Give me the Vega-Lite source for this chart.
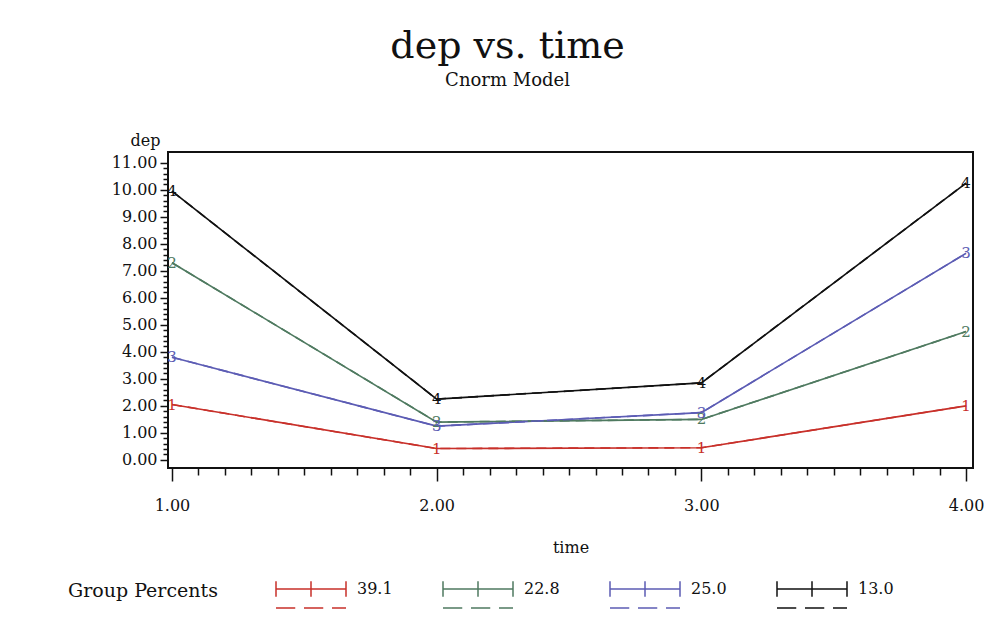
{
  "$schema": "https://vega.github.io/schema/vega-lite/v6.json",
  "width": 805,
  "height": 316,
  "autosize": "none",
  "padding": {"left": 168, "top": 152, "right": 20, "bottom": 156},
  "background": "white",
  "config": {
    "font": "DejaVu Serif",
    "view": {"stroke": "#111111", "strokeWidth": 2},
    "axis": {"grid": false, "domain": false, "labelColor": "#111111", "titleColor": "#111111", "tickColor": "#111111", "tickWidth": 1.5, "labelFont": "DejaVu Serif", "titleFont": "DejaVu Serif", "titleFontWeight": "normal"}
  },
  "title": {
    "text": "dep vs. time",
    "subtitle": "Cnorm Model",
    "frame": "group",
    "anchor": "middle",
    "dx": -63,
    "offset": 42,
    "font": "DejaVu Serif",
    "fontSize": 38,
    "fontWeight": "normal",
    "color": "#111111",
    "subtitleFont": "DejaVu Serif",
    "subtitleFontSize": 18,
    "subtitleColor": "#111111",
    "subtitlePadding": 6
  },
  "data": {
    "values": [
      {"time": 1, "group": "1", "dep": 2.05},
      {"time": 2, "group": "1", "dep": 0.42},
      {"time": 3, "group": "1", "dep": 0.45},
      {"time": 4, "group": "1", "dep": 2.0},
      {"time": 1, "group": "2", "dep": 7.3},
      {"time": 2, "group": "2", "dep": 1.4},
      {"time": 3, "group": "2", "dep": 1.5},
      {"time": 4, "group": "2", "dep": 4.75},
      {"time": 1, "group": "3", "dep": 3.8},
      {"time": 2, "group": "3", "dep": 1.25},
      {"time": 3, "group": "3", "dep": 1.75},
      {"time": 4, "group": "3", "dep": 7.65},
      {"time": 1, "group": "4", "dep": 9.95},
      {"time": 2, "group": "4", "dep": 2.25},
      {"time": 3, "group": "4", "dep": 2.85},
      {"time": 4, "group": "4", "dep": 10.25}
    ]
  },
  "encoding": {
    "x": {
      "field": "time", "type": "quantitative",
      "scale": {"domain": [0.985, 4.026], "nice": false, "zero": false},
      "axis": {
        "values": [1,1.1,1.2,1.3,1.4,1.5,1.6,1.7,1.8,1.9,2,2.1,2.2,2.3,2.4,2.5,2.6,2.7,2.8,2.9,3,3.1,3.2,3.3,3.4,3.5,3.6,3.7,3.8,3.9,4],
        "labelExpr": "abs(datum.value - round(datum.value)) < 1e-6 ? format(datum.value, '.2f') : ''",
        "tickSize": {"condition": {"test": "abs(datum.value - round(datum.value)) < 1e-6", "value": 13}, "value": 7},
        "labelOverlap": false,
        "labelFlush": false,
        "labelPadding": 16,
        "labelFontSize": 16,
        "title": "time",
        "titleFontSize": 16,
        "titleY": 79,
        "titleBaseline": "middle"
      }
    },
    "y": {
      "field": "dep", "type": "quantitative",
      "scale": {"domain": [-0.3, 11.4], "nice": false, "zero": false},
      "axis": {
        "values": [0,0.2,0.4,0.6,0.8,1,1.2,1.4,1.6,1.8,2,2.2,2.4,2.6,2.8,3,3.2,3.4,3.6,3.8,4,4.2,4.4,4.6,4.8,5,5.2,5.4,5.6,5.8,6,6.2,6.4,6.6,6.8,7,7.2,7.4,7.6,7.8,8,8.2,8.4,8.6,8.8,9,9.2,9.4,9.6,9.8,10,10.2,10.4,10.6,10.8,11],
        "labelExpr": "abs(datum.value - round(datum.value)) < 1e-6 ? format(datum.value, '.2f') : ''",
        "tickSize": {"condition": {"test": "abs(datum.value - round(datum.value)) < 1e-6", "value": 8}, "value": 5},
        "labelOverlap": false,
        "labelFlush": false,
        "labelPadding": 3,
        "labelFontSize": 16,
        "title": "dep",
        "titleFontSize": 16,
        "titleAngle": 0,
        "titleX": -23,
        "titleY": -12,
        "titleAlign": "center",
        "titleBaseline": "middle"
      }
    }
  },
  "layer": [
    {
      "mark": {"type": "line", "strokeWidth": 1.6},
      "encoding": {
        "color": {
          "field": "group", "type": "nominal",
          "scale": {"domain": ["1", "2", "3", "4"], "range": ["#c8302a", "#4f7a60", "#5c5cb4", "#111111"]},
          "legend": {
            "orient": "none",
            "legendX": -100,
            "legendY": 401,
            "direction": "horizontal",
            "title": "Group Percents",
            "titleOrient": "left",
            "titleFontSize": 19,
            "titleFontWeight": "normal",
            "titleColor": "#111111",
            "titlePadding": 57,
            "titleBaseline": "top",
            "titleAnchor": "middle",
            "padding": 0,
            "labelExpr": "({'1': '39.1', '2': '22.8', '3': '25.0', '4': '13.0'})[datum.label]",
            "labelFontSize": 16,
            "labelColor": "#111111",
            "labelOffset": 10,
            "columnPadding": 47,
            "symbolType": "M-1,0L1,0M-1,-0.22L-1,0.22M0,-0.22L0,0.22M1,-0.22L1,0.22M-1,0.54L-0.45,0.54M-0.2,0.54L0.35,0.54M0.6,0.54L1,0.54",
            "symbolSize": 4900,
            "symbolStrokeWidth": 1.5,
            "symbolFillColor": "transparent"
          }
        }
      }
    },
    {
      "mark": {"type": "line", "strokeWidth": 1.6, "strokeDash": [10, 6]},
      "encoding": {
        "color": {"field": "group", "type": "nominal"}
      }
    },
    {
      "mark": {"type": "text", "fontSize": 15, "font": "DejaVu Serif", "baseline": "middle", "align": "center"},
      "encoding": {
        "text": {"field": "group"},
        "fill": {
          "field": "group", "type": "nominal",
          "scale": {"domain": ["1", "2", "3", "4"], "range": ["#c8302a", "#4f7a60", "#5c5cb4", "#111111"]},
          "legend": null
        }
      }
    }
  ]
}
